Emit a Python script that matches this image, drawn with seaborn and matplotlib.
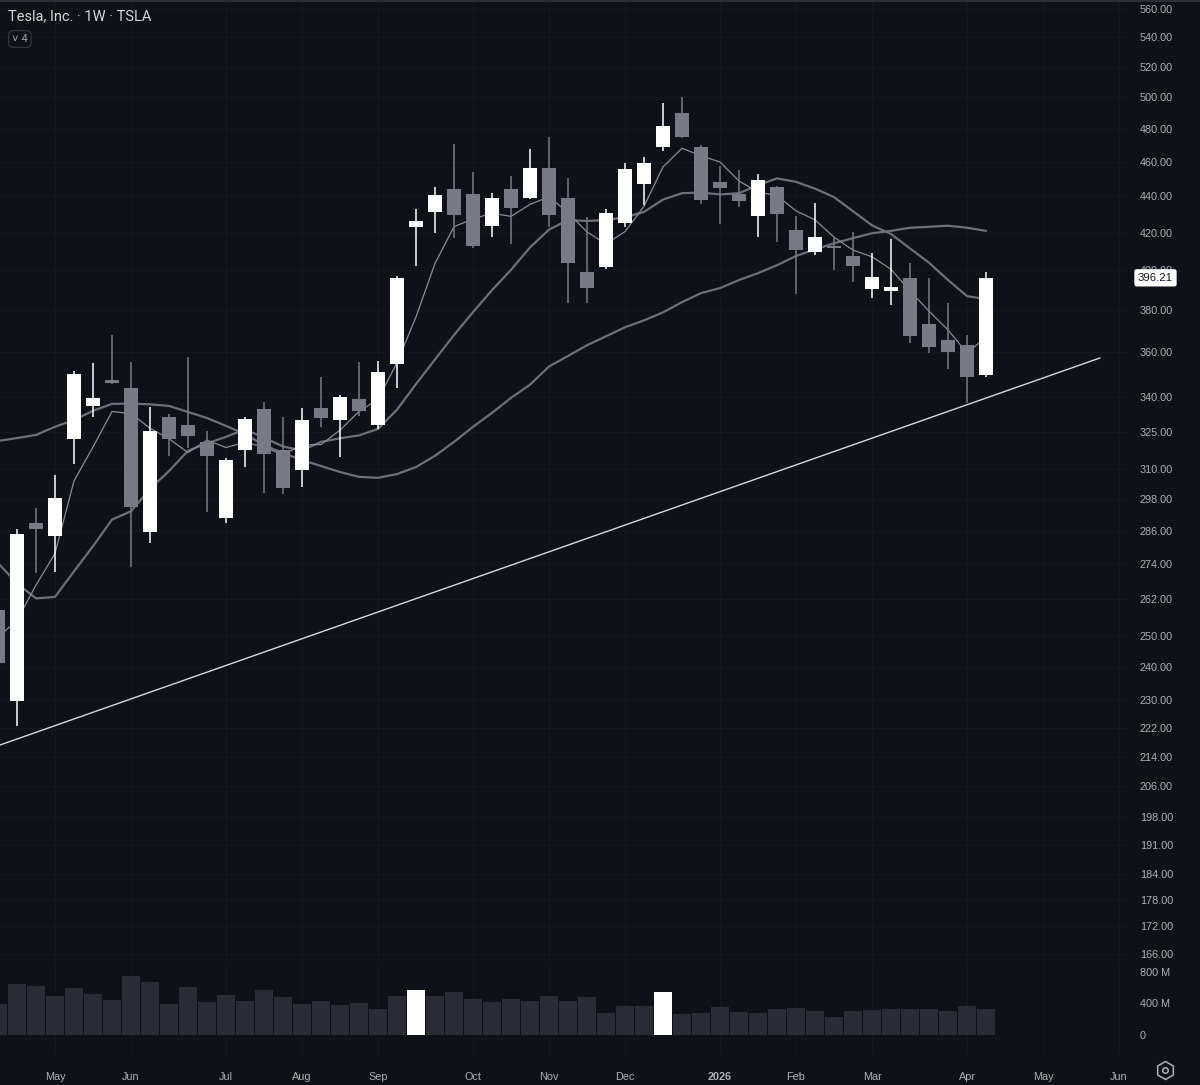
import matplotlib
matplotlib.use("Agg")
import matplotlib.pyplot as plt
import matplotlib.transforms as mtransforms
from matplotlib.lines import Line2D
from matplotlib.ticker import NullLocator
import pandas as pd
import seaborn as sns

# Weekly TSLA candles (first week starts 2025-04-14)
opens = [258.4, 229.8, 289.0, 284.2, 322.0, 336.0, 347.4, 343.9, 285.7, 331.3,
         327.9, 320.7, 290.9, 317.5, 334.7, 317.5, 309.4, 335.1, 329.9, 339.0,
         327.9, 354.7, 423.0, 431.3, 444.2, 441.4, 423.6, 444.2, 439.1, 456.6,
         439.1, 399.2, 401.8, 425.2, 447.1, 468.9, 489.8, 468.9, 448.3, 441.4,
         429.1, 445.4, 421.3, 409.6, 412.8, 407.5, 390.6, 389.6, 396.2, 373.4,
         365.8, 363.4, 349.6]
highs = [260.1, 286.8, 294.6, 307.4, 351.5, 355.1, 368.2, 355.6, 335.6, 332.6,
         357.9, 325.4, 314.3, 331.1, 337.7, 331.1, 335.1, 348.8, 340.8, 355.6,
         355.9, 397.2, 433.0, 445.4, 470.7, 454.3, 442.0, 451.7, 467.7, 474.7,
         450.4, 428.5, 433.0, 459.6, 463.1, 496.2, 500.0, 470.1, 457.8, 454.9,
         453.1, 445.9, 429.1, 436.3, 417.1, 420.3, 409.0, 416.6, 404.0, 396.2,
         383.6, 368.2, 399.2]
lows = [239.9, 222.5, 271.1, 271.4, 311.8, 331.3, 345.5, 273.2, 281.7, 315.1,
        318.4, 293.1, 289.0, 310.6, 300.4, 299.9, 302.7, 327.1, 314.7, 331.7,
        326.3, 343.9, 402.4, 419.8, 417.1, 411.7, 417.6, 413.9, 438.5, 423.0,
        383.6, 383.6, 400.8, 423.0, 435.2, 466.4, 474.4, 435.8, 424.6, 434.0,
        417.6, 415.0, 388.1, 408.0, 400.2, 394.1, 386.1, 382.6, 364.4, 359.5,
        352.4, 337.3, 348.8]
closes = [241.4, 284.9, 286.8, 298.5, 350.1, 339.5, 346.1, 295.0, 325.4, 322.0,
          323.3, 315.1, 313.5, 330.3, 315.9, 302.3, 329.9, 330.7, 339.9, 333.8,
          351.0, 396.2, 426.3, 440.8, 429.6, 412.8, 439.1, 433.5, 456.6, 429.6,
          403.9, 391.2, 430.7, 456.0, 459.6, 481.8, 475.0, 438.0, 444.8, 437.4,
          449.2, 430.2, 410.6, 417.6, 411.7, 402.4, 396.7, 391.6, 367.6, 362.3,
          360.3, 348.8, 396.21]
volume_m = [392, 648, 622, 495, 600, 520, 447, 754, 673, 392,
            613, 413, 507, 434, 566, 482, 392, 426, 379, 405,
            332, 495, 575, 495, 545, 460, 413, 451, 426, 495,
            438, 482, 285, 370, 370, 545, 265, 285, 354, 298,
            285, 328, 341, 311, 234, 307, 320, 332, 324, 332,
            307, 366, 328]
highlight_weeks = ["2025-09-15", "2025-12-15"]

# moving averages as drawn on the chart
ma_short = [249.5, 255.0, 266.8, 277.9, 305.1, 318.7, 333.6, 332.7, 326.5, 322.1,
            316.4, 321.5, 318.5, 320.6, 318.7, 315.5, 319.6, 319.7, 325.7, 333.6,
            338.9, 355.2, 376.8, 403.6, 423.2, 427.4, 430.6, 428.8, 435.5, 439.7,
            430.9, 420.3, 413.9, 420.5, 434.4, 457.0, 468.1, 463.6, 459.9, 448.8,
            442.4, 440.4, 431.9, 426.9, 417.5, 410.6, 407.1, 400.6, 389.6, 379.6,
            370.5, 359.8, 366.9]
ma_mid = [274.5, 267.4, 262.3, 262.8, 271.6, 280.5, 290.3, 293.4, 302.0, 309.0,
          317.2, 320.2, 322.9, 326.0, 322.6, 318.9, 317.3, 320.8, 322.3, 323.5,
          326.2, 334.4, 345.6, 356.7, 368.1, 379.1, 390.0, 400.3, 412.0, 421.6,
          426.8, 426.3, 426.8, 428.3, 431.3, 438.2, 441.8, 442.2, 441.1, 441.8,
          446.4, 450.3, 448.3, 444.4, 439.6, 431.7, 423.9, 419.2, 411.5, 404.0,
          395.1, 387.0, 385.5]
ma_long = [321.2, 322.4, 323.7, 327.1, 330.0, 333.9, 336.9, 337.0, 336.7, 336.0,
           333.4, 330.8, 327.5, 324.0, 319.5, 316.2, 313.4, 311.0, 308.6, 306.7,
           306.3, 307.8, 310.6, 315.1, 320.8, 327.1, 333.0, 339.5, 345.3, 353.5,
           358.3, 363.3, 367.5, 371.8, 375.1, 379.0, 384.0, 388.5, 391.0, 395.1,
           398.6, 402.7, 407.5, 411.0, 414.2, 417.0, 419.6, 420.9, 422.6, 423.1,
           423.7, 422.6, 420.9]

# trend line anchors
trend_dates = ["2025-04-14", "2026-05-25"]
trend_prices = [217.0, 357.4]

price_ticks = [166, 172, 178, 184, 191, 198, 206, 214, 222, 230, 240, 250, 262,
               274, 286, 298, 310, 325, 340, 360, 380, 400, 420, 440, 460, 480,
               500, 520, 540, 560]
month_ticks = ["2025-05-05", "2025-06-02", "2025-07-07", "2025-08-04", "2025-09-01",
               "2025-10-06", "2025-11-03", "2025-12-01", "2026-01-05", "2026-02-02",
               "2026-03-02", "2026-04-06", "2026-05-04", "2026-06-01"]
month_labels = ["May", "Jun", "Jul", "Aug", "Sep", "Oct", "Nov", "Dec", "2026",
                "Feb", "Mar", "Apr", "May", "Jun"]
last_price = 396.21

BG = "#0f1119"
GRID = "#141720"
TXT = "#aeb1ba"
UP = "#ffffff"
DOWN = "#787b86"

weeks = pd.date_range("2025-04-14", periods=len(closes), freq="W-MON")
df = pd.DataFrame({"week": weeks, "open": opens, "high": highs, "low": lows,
                   "close": closes, "vol": [v * 1e6 for v in volume_m],
                   "ma_short": ma_short, "ma_mid": ma_mid, "ma_long": ma_long})
df["up"] = df["close"] >= df["open"]

sns.set_theme(style="dark", rc={"axes.facecolor": BG, "figure.facecolor": BG,
                                "grid.color": GRID, "axes.edgecolor": BG})
plt.rcParams["font.family"] = ["Liberation Sans", "DejaVu Sans"]

fig = plt.figure(figsize=(12, 10.85), dpi=100)
W, H = 1200, 1085
ax = fig.add_axes([0, 1 - 960 / H, 1128 / W, 960 / H])
axv = fig.add_axes([0, 1 - 1055 / H, 1128 / W, 93 / H], sharex=ax)

# trend line and moving averages
sns.lineplot(x=pd.to_datetime(trend_dates), y=trend_prices, ax=ax,
             color="#d9d9d9", linewidth=1.0, zorder=2)
sns.lineplot(data=df, x="week", y="ma_long", ax=ax, color="#6e7079", linewidth=1.6, zorder=2)
sns.lineplot(data=df, x="week", y="ma_mid", ax=ax, color="#6e7079", linewidth=1.6, zorder=2)
sns.lineplot(data=df, x="week", y="ma_short", ax=ax, color="#8b8d94", linewidth=0.9, zorder=2)

# candles
colors = [UP if u else DOWN for u in df["up"]]
ax.vlines(df["week"], df["low"], df["high"], colors=colors, linewidth=1.1, zorder=3)
body_lo = df[["open", "close"]].min(axis=1)
body_hi = df[["open", "close"]].max(axis=1)
ax.bar(df["week"], body_hi - body_lo, bottom=body_lo, width=5.1, color=colors,
       linewidth=0, zorder=4)

ax.set_yscale("log")
ax.set_ylim(164.7, 566.5)
t0 = weeks[0]
ax.set_xlim(t0 + pd.Timedelta(days=2 / 19 * 7), t0 + pd.Timedelta(days=1130 / 19 * 7))
ax.yaxis.tick_right()
ax.set_yticks(price_ticks)
ax.set_yticklabels([f"{t:.2f}" for t in price_ticks])
ax.yaxis.set_minor_locator(NullLocator())
ax.tick_params(axis="y", length=0, pad=8.6, labelcolor=TXT, labelsize=7.8)
ax.tick_params(axis="x", length=0, labelbottom=False)
ax.set_xlabel("")
ax.set_ylabel("")
ax.grid(True, color=GRID, linewidth=0.8)
ax.set_xticks(pd.to_datetime(month_ticks))
for s in ax.spines.values():
    s.set_visible(False)

# last price tag (sits over the 400.00 label, as in the original)
trans = mtransforms.blended_transform_factory(ax.transAxes, ax.transData)
ax.text(1138 / 1128, last_price, f"{last_price:.2f}", transform=trans,
        ha="left", va="center", fontsize=8.2, color="#131722", zorder=10, clip_on=False,
        bbox=dict(boxstyle="round,pad=0.32,rounding_size=0.2", fc="white", ec="none"))

# volume
hl = pd.to_datetime(highlight_weeks)
vcolors = [UP if w in hl else "#2a2c35" for w in df["week"]]
axv.bar(df["week"], df["vol"], width=6.3, color=vcolors, linewidth=0)
axv.set_ylim(-254e6, 927e6)
axv.yaxis.tick_right()
axv.set_yticks([0, 400e6, 800e6])
axv.set_yticklabels(["0", "400 M", "800 M"])
axv.tick_params(axis="y", length=0, pad=8.6, labelcolor=TXT, labelsize=7.8)
axv.set_xticks(pd.to_datetime(month_ticks))
axv.set_xticklabels(month_labels)
axv.tick_params(axis="x", length=0, pad=12, labelcolor=TXT, labelsize=7.8)
for lab in axv.get_xticklabels():
    if lab.get_text() == "2026":
        lab.set_fontweight("bold")
axv.grid(True, axis="x", color=GRID, linewidth=0.8)
axv.grid(False, axis="y")
axv.set_xlabel("")
axv.set_ylabel("")
for s in axv.spines.values():
    s.set_visible(False)

# header
fig.text(8 / W, 1 - 16 / H, "Tesla, Inc. · 1W · TSLA", fontsize=10.5, color="#d1d4dc",
         va="center", ha="left", family=["Roboto", "DejaVu Sans"])
fig.text(12 / W, 1 - 39 / H, "˅ 4", fontsize=8, color=TXT, va="center", ha="left",
         bbox=dict(boxstyle="round,pad=0.3,rounding_size=0.4", fc=BG, ec="#363a45", lw=0.8))

# settings icon
fig.add_artist(Line2D([1165 / W], [1 - 1070 / H], marker="h", markersize=13, mfc="none",
                      mec=TXT, mew=1.1, transform=fig.transFigure))
fig.add_artist(Line2D([1165 / W], [1 - 1070 / H], marker="o", markersize=4, mfc="none",
                      mec=TXT, mew=1.1, transform=fig.transFigure))
fig.add_artist(Line2D([0, 1], [1 - 1 / H, 1 - 1 / H], color="#2a2e39", lw=1.5,
                      transform=fig.transFigure))

fig.savefig("out.png", dpi=100, facecolor=BG)
